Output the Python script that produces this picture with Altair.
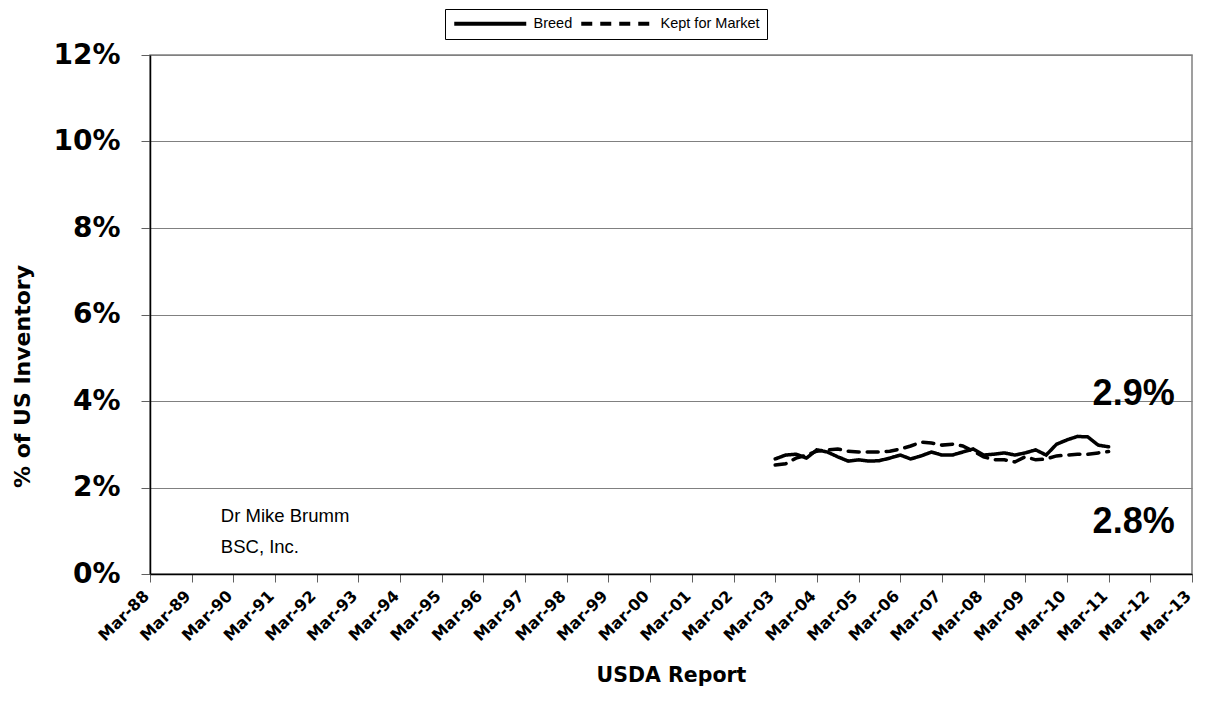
import altair as alt
import pandas as pd

FONT = "Liberation Sans"
BOLD_FONT = "DejaVu Sans"

# USDA quarterly report dates
reports = ["Mar-03", "Jun-03", "Sep-03", "Dec-03",
           "Mar-04", "Jun-04", "Sep-04", "Dec-04",
           "Mar-05", "Jun-05", "Sep-05", "Dec-05",
           "Mar-06", "Jun-06", "Sep-06", "Dec-06",
           "Mar-07", "Jun-07", "Sep-07", "Dec-07",
           "Mar-08", "Jun-08", "Sep-08", "Dec-08",
           "Mar-09", "Jun-09", "Sep-09", "Dec-09",
           "Mar-10", "Jun-10", "Sep-10", "Dec-10",
           "Mar-11"]

breed = [2.66, 2.75, 2.77, 2.68, 2.87, 2.82, 2.71, 2.61,
         2.64, 2.61, 2.62, 2.68, 2.75, 2.66, 2.73, 2.82,
         2.75, 2.75, 2.82, 2.89, 2.75, 2.77, 2.80, 2.75,
         2.80, 2.87, 2.75, 3.00, 3.10, 3.18, 3.17, 2.98,
         2.94]

kept_for_market = [2.52, 2.55, 2.68, 2.75, 2.84, 2.87, 2.89, 2.84,
                   2.82, 2.82, 2.82, 2.84, 2.89, 2.96, 3.05, 3.03,
                   2.98, 3.00, 2.96, 2.84, 2.71, 2.64, 2.64, 2.59,
                   2.71, 2.64, 2.66, 2.73, 2.75, 2.77, 2.77, 2.80,
                   2.83]

series_names = ["Breed", "Kept for Market"]
x_tick_years = list(range(1988, 2014))
y_ticks = [0, 2, 4, 6, 8, 10, 12]

end_labels = ["2.9%", "2.8%"]
end_label_x = [2011.6, 2011.6]
end_label_y = [4.16, 1.2]

credit_lines = ["Dr Mike Brumm", "BSC, Inc."]
credit_x = [1989.7, 1989.7]
credit_y = [1.34, 0.62]

MONTH_OFFSET = {"Mar": 0.0, "Jun": 0.25, "Sep": 0.5, "Dec": 0.75}


def report_to_year(label):
    mon, yy = label.split("-")
    yy = int(yy)
    year = 2000 + yy if yy < 50 else 1900 + yy
    return year + MONTH_OFFSET[mon]


rows = []
for name, vals in zip(series_names, [breed, kept_for_market]):
    for r, v in zip(reports, vals):
        rows.append({"report": r, "t": report_to_year(r), "value": v, "series": name})
df = pd.DataFrame(rows)

ann = pd.DataFrame({"text": end_labels, "t": end_label_x, "value": end_label_y})
cred = pd.DataFrame({"text": credit_lines, "t": credit_x, "value": credit_y})

x_scale = alt.Scale(domain=[1988, 2013], nice=False, zero=False)
y_scale = alt.Scale(domain=[0, 12], nice=False)

x_axis = alt.Axis(
    values=x_tick_years,
    labelExpr="'Mar-' + format(datum.value % 100, '02d')",
    labelAngle=-45, labelAlign="right", labelBaseline="middle",
    labelFont=BOLD_FONT, labelFontSize=16, labelFontWeight="bold", labelColor="black",
    labelPadding=11, labelOffset=-4, tickSize=8, tickColor="#606060",
    domainColor="black", domainWidth=1.5,
    grid=False,
    title="USDA Report", titleFont=BOLD_FONT, titleFontSize=20.5, titleFontWeight="bold",
    titleColor="black", titleX=521, titleY=101, titleBaseline="middle", titleAlign="center",
    labelOverlap=False,
)

y_axis = alt.Axis(
    values=y_ticks,
    labelExpr="datum.value + '%'",
    labelFont=BOLD_FONT, labelFontSize=28, labelFontWeight="bold", labelColor="black",
    labelPadding=21, tickSize=9, tickColor="#606060",
    domainColor="black", domainWidth=1.5,
    grid=True, gridColor="#808080", gridWidth=1,
    title="% of US Inventory", titleFont=BOLD_FONT, titleFontSize=22, titleFontWeight="bold",
    titleColor="black", titleAngle=-90, titleX=-128, titleY=321,
    titleAlign="center", titleBaseline="middle",
)

lines = alt.Chart(df).mark_line(strokeWidth=3.5, color="black", strokeCap="round").encode(
    x=alt.X("t:Q", scale=x_scale, axis=x_axis),
    y=alt.Y("value:Q", scale=y_scale, axis=y_axis),
    strokeDash=alt.StrokeDash(
        "series:N",
        scale=alt.Scale(domain=series_names, range=[[1, 0], [11, 8]]),
        legend=alt.Legend(
            title=None, orient="none", legendX=295, legendY=-46,
            direction="horizontal", columns=2,
            symbolType="M-1,0H13.4", symbolSize=100, symbolStrokeWidth=4,
            symbolStrokeColor="black", symbolFillColor="black",
            labelFont=FONT, labelFontSize=14.5, labelFontWeight="normal", labelColor="black",
            labelOffset=67, columnPadding=0,
            fillColor="white", strokeColor="black", padding=7,
        ),
    ),
    detail="series:N",
)

annotations = alt.Chart(ann).mark_text(
    font=FONT, fontSize=36, fontWeight="bold", color="black", align="center", baseline="middle"
).encode(x=alt.X("t:Q", scale=x_scale), y=alt.Y("value:Q", scale=y_scale), text="text:N")

credits = alt.Chart(cred).mark_text(
    font=FONT, fontSize=18.5, color="black", align="left", baseline="middle"
).encode(x=alt.X("t:Q", scale=x_scale), y=alt.Y("value:Q", scale=y_scale), text="text:N")

chart = alt.layer(lines, annotations, credits).properties(
    width=1042, height=519,
    autosize=alt.AutoSizeParams(type="none"),
    padding={"left": 142, "top": 47, "right": 8, "bottom": 132},
    background="white",
).configure_view(stroke="#808080", strokeWidth=1.5)

chart.save("out.html", embed_options={"renderer": "svg", "actions": False})
